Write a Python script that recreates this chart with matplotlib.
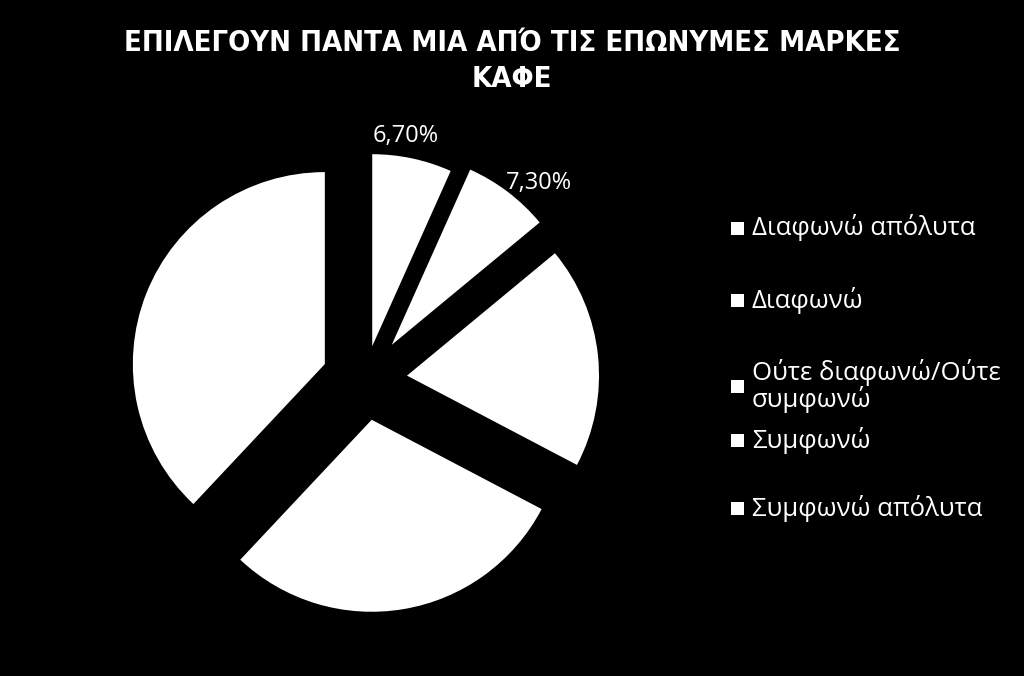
import matplotlib.pyplot as plt
from matplotlib.patches import Rectangle

categories = ['Διαφωνώ απόλυτα', 'Διαφωνώ', 'Ούτε διαφωνώ/Ούτε\nσυμφωνώ',
              'Συμφωνώ', 'Συμφωνώ απόλυτα']
values = [6.7, 7.3, 18.7, 29.3, 38.0]
shown = [True, True, False, False, False]   # only these data labels are visible
title = 'ΕΠΙΛΕΓΟΥΝ ΠΑΝΤΑ ΜΙΑ ΑΠΌ ΤΙΣ ΕΠΩΝΥΜΕΣ ΜΑΡΚΕΣ\nΚΑΦΕ'

W, H = 1024, 676
fig = plt.figure(figsize=(W / 100, H / 100), dpi=100, facecolor='black')

# pie centre and radius in pixels
cx, cy, rad = 365, 380, 192
xl, yl = 1.8, 1.5
ax = fig.add_axes([(cx - xl * rad) / W, (H - cy - yl * rad) / H,
                   2 * xl * rad / W, 2 * yl * rad / H])
ax.set_facecolor('black')

explode = [0.18, 0.23, 0.22, 0.21, 0.225]

def fmt(p):
    return f'{p:.2f}%'.replace('.', ',')

wedges, texts, autotexts = ax.pie(values, explode=explode, startangle=90,
                                  counterclock=False, autopct=fmt,
                                  pctdistance=1.12,
                                  wedgeprops=dict(facecolor='white', edgecolor='none'),
                                  textprops=dict(color='white', fontsize=17,
                                                 family=['Open Sans', 'DejaVu Sans']))
for t, s in zip(autotexts, shown):
    t.set_visible(s)
# nudge the two visible labels like the original (first left, second right)
x0, y0 = autotexts[0].get_position()
autotexts[0].set_position((x0 - 0.06, y0))
x1, y1 = autotexts[1].get_position()
autotexts[1].set_position((x1 + 0.09, y1 - 0.05))
ax.set_xlim(-xl, xl)
ax.set_ylim(-yl, yl)
ax.set_aspect('equal')
ax.axis('off')

fig.text(0.5, 1 - 61 / H, title, ha='center', va='center', color='white',
         fontsize=21, fontweight='bold', fontstretch='condensed', linespacing=1.35,
         family=['DejaVu Sans'])

# legend, placed by hand like the original
leg_y = [228, 300, 386, 440, 508]
for lab, y in zip(categories, leg_y):
    fig.patches.append(Rectangle((731 / W, 1 - (y + 7) / H), 13 / W, 13 / H,
                                 transform=fig.transFigure, facecolor='white',
                                 edgecolor='none'))
    fig.text(752 / W, 1 - y / H, lab, ha='left', va='center', color='white',
             fontsize=18.5, linespacing=1.0, family=['Open Sans', 'DejaVu Sans'])

fig.savefig('out.png', dpi=100, facecolor='black')
